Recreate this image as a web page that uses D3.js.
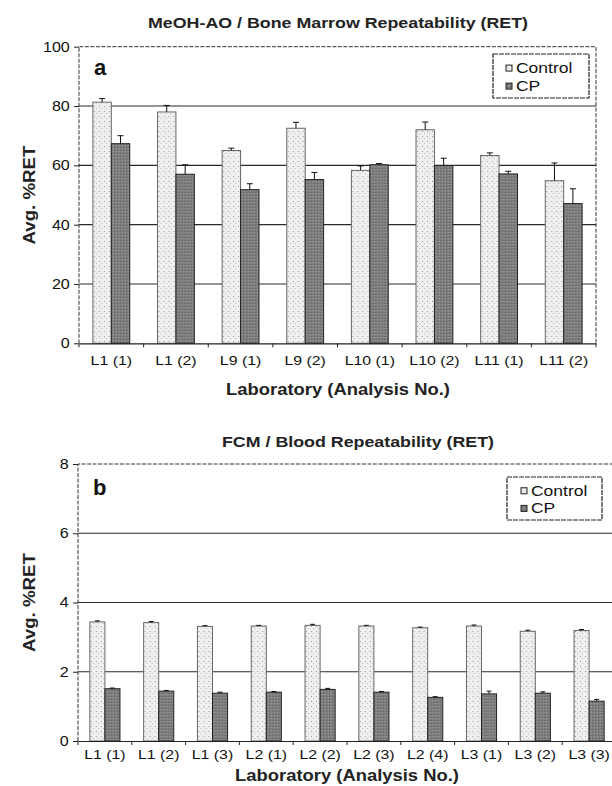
<!DOCTYPE html>
<html>
<head>
<meta charset="utf-8">
<script src="https://cdn.jsdelivr.net/npm/d3@7"></script>
<style>
  body { margin: 0; background: #fff; }
  text { font-family: "Liberation Sans", Arial, sans-serif; fill: #111; }
</style>
</head>
<body>
<svg id="fig" width="612" height="786"></svg>
<script>
// panel a: MeOH-AO / bone marrow
const boneCategories = ['L1 (1)', 'L1 (2)', 'L9 (1)', 'L9 (2)', 'L10 (1)', 'L10 (2)', 'L11 (1)', 'L11 (2)'];
const boneControl    = [81.3, 78.0, 65.0, 72.5, 58.3, 72.0, 63.3, 54.8];
const boneControlErr = [1.2, 2.2, 0.8, 2.0, 1.5, 2.6, 0.9, 6.0];
const boneCp         = [67.3, 57.0, 51.8, 55.2, 60.2, 59.9, 57.1, 47.1];
const boneCpErr      = [2.7, 3.2, 2.0, 2.4, 0.4, 2.5, 0.9, 5.0];
const boneTicks      = [0, 20, 40, 60, 80, 100];

// panel b: FCM / blood
const bloodCategories = ['L1 (1)', 'L1 (2)', 'L1 (3)', 'L2 (1)', 'L2 (2)', 'L2 (3)', 'L2 (4)', 'L3 (1)', 'L3 (2)', 'L3 (3)'];
const bloodControl    = [3.44, 3.42, 3.31, 3.32, 3.34, 3.32, 3.27, 3.32, 3.17, 3.19];
const bloodControlErr = [0.03, 0.03, 0.02, 0.02, 0.03, 0.02, 0.02, 0.03, 0.03, 0.03];
const bloodCp         = [1.51, 1.44, 1.38, 1.41, 1.49, 1.41, 1.26, 1.36, 1.38, 1.15];
const bloodCpErr      = [0.02, 0.02, 0.03, 0.02, 0.03, 0.02, 0.02, 0.08, 0.04, 0.05];
const bloodTicks      = [0, 2, 4, 6, 8];

const seriesNames = ['Control', 'CP'];

const svg = d3.select('#fig');

// speckled fills, like the scanned print
const defs = svg.append('defs');
const light = defs.append('pattern').attr('id', 'lightFill')
  .attr('patternUnits', 'userSpaceOnUse').attr('width', 5).attr('height', 5);
light.append('rect').attr('width', 5).attr('height', 5).attr('fill', '#efefef');
light.append('rect').attr('x', 1).attr('y', 1).attr('width', 1).attr('height', 1).attr('fill', '#9a9a9a');
light.append('rect').attr('x', 3).attr('y', 3).attr('width', 1).attr('height', 1).attr('fill', '#bdbdbd');

const dark = defs.append('pattern').attr('id', 'darkFill')
  .attr('patternUnits', 'userSpaceOnUse').attr('width', 3).attr('height', 3);
dark.append('rect').attr('width', 3).attr('height', 3).attr('fill', '#7e7e7e');
dark.append('rect').attr('x', 0).attr('y', 0).attr('width', 1).attr('height', 1).attr('fill', '#5e5e5e');
dark.append('rect').attr('x', 2).attr('y', 1).attr('width', 1).attr('height', 1).attr('fill', '#9c9c9c');

const fills = { Control: 'url(#lightFill)', CP: 'url(#darkFill)' };
const strokes = { Control: '#666', CP: '#222' };

function drawPanel(p) {
  const g = svg.append('g');

  const x0 = d3.scaleBand()
    .domain(p.categories)
    .range([p.left, p.right])
    .paddingInner(p.pad)
    .paddingOuter(p.pad / 2);

  const x1 = d3.scaleBand()
    .domain(seriesNames)
    .range([0, x0.bandwidth()]);

  const y = d3.scaleLinear()
    .domain([0, p.ticks[p.ticks.length - 1]])
    .range([p.bottom, p.top]);

  // gridlines behind the bars
  g.append('g').selectAll('line')
    .data(p.ticks.slice(1, -1))
    .enter().append('line')
    .attr('x1', p.left).attr('x2', p.right)
    .attr('y1', d => y(d)).attr('y2', d => y(d))
    .style('stroke', '#2a2a2a')
    .style('stroke-width', 1.1);

  // frame: top, left, right
  const yMax = y(p.ticks[p.ticks.length - 1]);
  g.append('path')
    .attr('d', `M${p.left},${p.bottom}V${yMax}H${p.right}V${p.bottom}`)
    .style('fill', 'none')
    .style('stroke', '#333')
    .style('stroke-width', 1)
    .style('stroke-dasharray', '4,1.5');

  const rows = p.categories.map((c, i) => ({
    cat: c,
    vals: [
      { key: 'Control', v: p.control[i], e: p.controlErr[i] },
      { key: 'CP', v: p.cp[i], e: p.cpErr[i] }
    ]
  }));

  const groups = g.append('g').selectAll('g')
    .data(rows)
    .enter().append('g')
    .attr('transform', d => `translate(${x0(d.cat)},0)`);

  groups.selectAll('rect')
    .data(d => d.vals)
    .enter().append('rect')
    .attr('x', d => x1(d.key))
    .attr('y', d => y(d.v))
    .attr('width', x1.bandwidth())
    .attr('height', d => y(0) - y(d.v))
    .attr('fill', d => fills[d.key])
    .style('stroke', d => strokes[d.key])
    .style('stroke-width', 1);

  // error bars (upper only)
  const err = groups.selectAll('g.err')
    .data(d => d.vals)
    .enter().append('g').attr('class', 'err')
    .attr('transform', d => `translate(${x1(d.key) + x1.bandwidth() / 2},0)`);
  err.append('line')
    .attr('x1', 0).attr('x2', 0)
    .attr('y1', d => y(d.v)).attr('y2', d => y(d.v + d.e))
    .style('stroke', '#111').style('stroke-width', 1);
  err.append('line')
    .attr('x1', -p.cap).attr('x2', p.cap)
    .attr('y1', d => y(d.v + d.e)).attr('y2', d => y(d.v + d.e))
    .style('stroke', '#111').style('stroke-width', 1);

  // y axis
  const yAxis = g.append('g')
    .attr('transform', `translate(${p.left},0)`)
    .call(d3.axisLeft(y).tickValues(p.ticks).tickSize(5).tickPadding(3).tickSizeOuter(0));
  yAxis.select('.domain').remove();
  yAxis.selectAll('line').style('stroke', '#222');
  yAxis.selectAll('text')
    .style('font-size', '14px')
    .style('fill', '#111')
    .attr('transform', 'scale(1.15,1)');

  // x axis: labels at group centres, ticks between groups
  const xAxis = g.append('g')
    .attr('transform', `translate(0,${p.bottom})`)
    .call(d3.axisBottom(x0).tickSize(0).tickPadding(p.labelPad));
  xAxis.select('.domain')
    .style('stroke', '#222')
    .style('stroke-width', 1.2);
  xAxis.selectAll('text')
    .style('font-size', '13px')
    .style('fill', '#111')
    .attr('transform', 'scale(1.22,1)');

  g.append('g').selectAll('line')
    .data(d3.range(p.categories.length + 1))
    .enter().append('line')
    .attr('x1', i => p.left + i * x0.step())
    .attr('x2', i => p.left + i * x0.step())
    .attr('y1', p.bottom).attr('y2', p.bottom + 4)
    .style('stroke', '#222');

  // titles
  g.append('text')
    .attr('transform', `translate(${p.titleX},${p.titleY}) scale(1.15,1)`)
    .attr('text-anchor', 'middle')
    .style('font-size', '15.5px')
    .style('font-weight', 'bold')
    .style('fill', '#222')
    .text(p.title);

  g.append('text')
    .attr('transform', `translate(${p.xTitleX},${p.xTitleY}) scale(1.15,1)`)
    .attr('text-anchor', 'middle')
    .style('font-size', '16px')
    .style('font-weight', 'bold')
    .style('fill', '#222')
    .text('Laboratory (Analysis No.)');

  g.append('text')
    .attr('transform', `translate(35,${(p.top + p.bottom) / 2}) rotate(-90) scale(1.1,1)`)
    .attr('text-anchor', 'middle')
    .style('font-size', '17px')
    .style('font-weight', 'bold')
    .style('fill', '#222')
    .text('Avg. %RET');

  g.append('text')
    .attr('x', p.left + 15)
    .attr('y', p.letterY)
    .style('font-size', '22px')
    .style('font-weight', 'bold')
    .text(p.letter);

  // legend
  const lg = g.append('g');
  lg.append('rect')
    .attr('x', p.legend.x).attr('y', p.legend.y)
    .attr('width', p.legend.w).attr('height', p.legend.h)
    .style('fill', '#fff')
    .style('stroke', '#222')
    .style('stroke-width', 1.2)
    .style('stroke-dasharray', '5,1');
  seriesNames.forEach((s, i) => {
    const cy = p.legend.y + p.legend.h * (i === 0 ? 0.32 : 0.73);
    lg.append('rect')
      .attr('x', p.legend.x + p.legend.sq).attr('y', cy - 3)
      .attr('width', 6).attr('height', 6)
      .attr('fill', fills[s])
      .style('stroke', '#222').style('stroke-width', 1);
    lg.append('text')
      .attr('transform', `translate(${p.legend.x + p.legend.sq + 10},${cy + 5}) scale(1.25,1)`)
      .style('font-size', '14px')
      .text(s);
  });
}

drawPanel({
  categories: boneCategories,
  control: boneControl, controlErr: boneControlErr,
  cp: boneCp, cpErr: boneCpErr,
  ticks: boneTicks,
  left: 79, right: 596, top: 46.7, bottom: 343.3,
  pad: 0.43, cap: 3, labelPad: 12,
  title: 'MeOH-AO / Bone Marrow Repeatability (RET)', titleX: 338, titleY: 28,
  xTitleX: 338, xTitleY: 395, letter: 'a', letterY: 75,
  legend: { x: 493, y: 54, w: 96, h: 44, sq: 13 }
});

drawPanel({
  categories: bloodCategories,
  control: bloodControl, controlErr: bloodControlErr,
  cp: bloodCp, cpErr: bloodCpErr,
  ticks: bloodTicks,
  left: 78, right: 616, top: 464, bottom: 741,
  pad: 0.44, cap: 2.5, labelPad: 9,
  title: 'FCM / Blood Repeatability (RET)', titleX: 358, titleY: 447,
  xTitleX: 347, xTitleY: 781, letter: 'b', letterY: 495,
  legend: { x: 507, y: 477, w: 95, h: 43, sq: 14 }
});
</script>
</body>
</html>
